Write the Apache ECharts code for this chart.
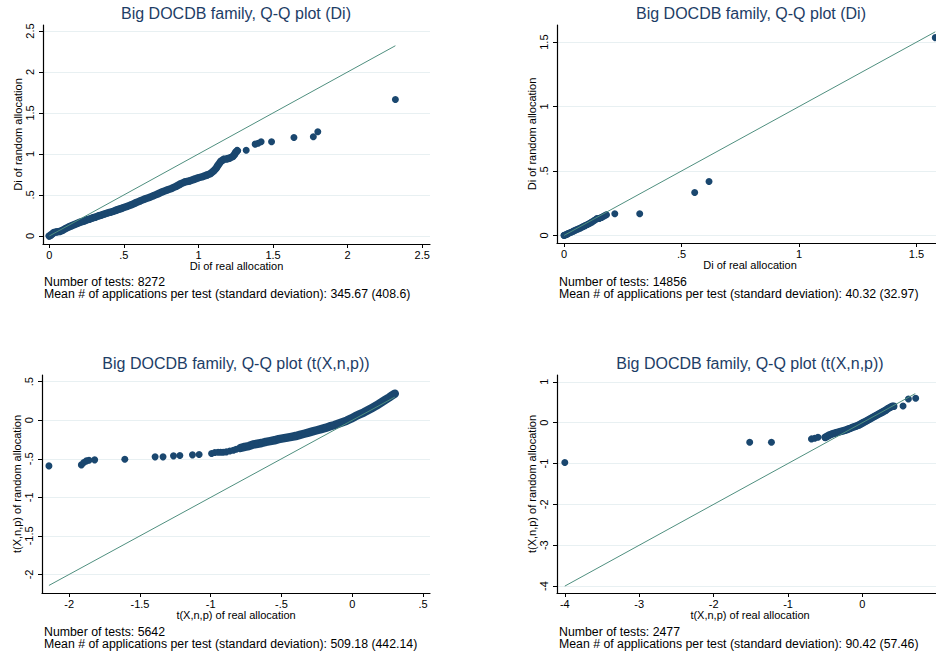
<!DOCTYPE html>
<html>
<head>
<meta charset="utf-8">
<script src="https://cdn.jsdelivr.net/npm/echarts@6/dist/echarts.min.js"></script>
<style>html,body{margin:0;padding:0;background:#fff;}#chart{width:936px;height:656px;}</style>
</head>
<body>
<div id="chart"></div>
<script>
// ---------- Data ----------
const titleText1 = 'Big DOCDB family, Q-Q plot (Di)';
const titleText2 = 'Big DOCDB family, Q-Q plot (t(X,n,p))';
const xNameDi = 'Di of real allocation';
const yNameDi = 'Di of random allocation';
const xNameT = 't(X,n,p) of real allocation';
const yNameT = 't(X,n,p) of random allocation';
const notes1 = ['Number of tests: 8272', 'Mean # of applications per test (standard deviation): 345.67 (408.6)'];
const notes2 = ['Number of tests: 14856', 'Mean # of applications per test (standard deviation): 40.32 (32.97)'];
const notes3 = ['Number of tests: 5642', 'Mean # of applications per test (standard deviation): 509.18 (442.14)'];
const notes4 = ['Number of tests: 2477', 'Mean # of applications per test (standard deviation): 90.42 (57.46)'];

// Panel 1 (Di, top-left): dense part of the quantile curve, then sparse upper quantiles
const p1DenseReal = [0,0.01,0.02,0.03,0.05,0.07,0.09,0.11,0.13,0.15,0.17,0.19,0.21,0.23,0.25,0.27,0.29,0.31,0.33,0.35,0.37,0.39,0.41,0.43,0.45,0.47,0.49,0.52,0.55,0.58,0.61,0.64,0.67,0.70,0.73,0.76,0.79,0.82,0.85,0.88,0.91,0.94,0.97,1.00,1.03,1.06,1.08,1.10,1.12,1.13,1.15,1.17,1.19,1.21,1.23,1.24,1.25,1.26];
const p1DenseRand = [0,0.01,0.025,0.04,0.05,0.055,0.07,0.09,0.11,0.125,0.14,0.155,0.17,0.18,0.195,0.205,0.22,0.23,0.245,0.255,0.268,0.28,0.29,0.302,0.315,0.328,0.34,0.36,0.38,0.405,0.428,0.45,0.47,0.492,0.515,0.54,0.56,0.58,0.605,0.635,0.66,0.67,0.69,0.71,0.725,0.745,0.76,0.79,0.83,0.86,0.91,0.935,0.94,0.95,0.97,0.99,1.02,1.04];
const p1SparseReal = [1.32,1.38,1.40,1.42,1.49,1.64,1.77,1.80,2.32];
const p1SparseRand = [1.045,1.12,1.13,1.15,1.15,1.20,1.21,1.27,1.665];
const p1Ref = [0, 2.32];

// Panel 2 (Di, top-right)
const p2DenseReal = [0,0.005,0.01,0.015,0.02,0.03,0.04,0.05,0.06,0.07,0.08,0.09,0.10,0.11,0.12,0.13,0.14,0.15,0.16,0.17,0.18];
const p2DenseRand = [0,0.003,0.007,0.012,0.016,0.024,0.033,0.042,0.05,0.058,0.067,0.076,0.085,0.095,0.105,0.118,0.13,0.132,0.14,0.15,0.16];
const p2SparseReal = [0.216,0.322,0.556,0.617,1.58];
const p2SparseRand = [0.168,0.168,0.333,0.419,1.535];
const p2Ref = [0, 1.58];

// Panel 3 (t(X,n,p), bottom-left)
const p3DenseReal = [-0.79,-0.76,-0.73,-0.70,-0.67,-0.64,-0.61,-0.58,-0.55,-0.52,-0.49,-0.46,-0.43,-0.40,-0.37,-0.34,-0.31,-0.28,-0.25,-0.22,-0.19,-0.16,-0.13,-0.10,-0.07,-0.04,-0.01,0.02,0.05,0.08,0.11,0.14,0.17,0.20,0.23,0.26,0.28,0.30];
const p3DenseRand = [-0.36,-0.345,-0.335,-0.315,-0.305,-0.295,-0.28,-0.27,-0.26,-0.245,-0.235,-0.225,-0.215,-0.205,-0.19,-0.175,-0.16,-0.145,-0.13,-0.115,-0.10,-0.08,-0.065,-0.045,-0.025,-0.005,0.02,0.05,0.075,0.10,0.13,0.16,0.19,0.225,0.26,0.295,0.32,0.345];
const p3SparseReal = [-2.143,-1.914,-1.897,-1.878,-1.86,-1.82,-1.607,-1.393,-1.337,-1.263,-1.218,-1.129,-1.082,-0.994,-0.971,-0.948,-0.93,-0.912,-0.89,-0.865,-0.84,-0.82];
const p3SparseRand = [-0.592,-0.579,-0.549,-0.527,-0.518,-0.514,-0.505,-0.475,-0.475,-0.462,-0.458,-0.449,-0.445,-0.432,-0.419,-0.415,-0.415,-0.415,-0.41,-0.398,-0.39,-0.376];
const p3Ref = [-2.143, 0.30];

// Panel 4 (t(X,n,p), bottom-right)
const p4DenseReal = [-0.50,-0.47,-0.44,-0.41,-0.38,-0.35,-0.32,-0.29,-0.26,-0.23,-0.20,-0.17,-0.14,-0.11,-0.08,-0.05,-0.02,0.01,0.04,0.07,0.10,0.13,0.16,0.19,0.22,0.25,0.28,0.31,0.34,0.37,0.40,0.42];
const p4DenseRand = [-0.36,-0.33,-0.30,-0.28,-0.26,-0.245,-0.23,-0.215,-0.20,-0.185,-0.165,-0.145,-0.12,-0.10,-0.08,-0.06,-0.03,0.0,0.03,0.06,0.09,0.12,0.15,0.18,0.21,0.24,0.27,0.30,0.34,0.37,0.40,0.40];
const p4SparseReal = [-4.0,-1.515,-1.223,-0.685,-0.641,-0.597,0.546,0.618,0.716];
const p4SparseRand = [-0.976,-0.478,-0.478,-0.398,-0.381,-0.357,0.407,0.578,0.595];
const p4Ref = [-4.0, 0.71];

// Tick labels
const ticksDi1 = [0, 0.5, 1, 1.5, 2, 2.5];
const ticksDi2 = [0, 0.5, 1, 1.5];
const ticksT3 = [-2, -1.5, -1, -0.5, 0, 0.5];
const ticksT4 = [-4, -3, -2, -1, 0, 1];

// ---------- Styling / layout ----------
const FONT = "'Liberation Sans', Arial, sans-serif";
const NAVY = '#1a476f';
const LINE = '#4f8f7f';
const TITLE = '#1d3d66';
const GRIDC = '#e8f0f2';

function fmt(v) { return String(v).replace(/^(-?)0\./, '$1.'); }
function zip(a, b) { return a.map((v, i) => [v, b[i]]); }

const grids = [
  { left: 43, top: 25, width: 387, height: 219 },
  { left: 557, top: 25, right: 0, height: 218 },
  { left: 42, top: 375, width: 388, height: 218 },
  { left: 557, top: 375, right: 0, height: 218 }
];
const xRanges = [[-0.042, 2.552], [-0.03, 1.583], [-2.192, 0.549], [-4.105, 0.989]];
const yRanges = [[-0.098, 2.573], [-0.059, 1.633], [-2.241, 0.587], [-4.169, 1.166]];
const xTicks = [ticksDi1, ticksDi2, ticksT3, ticksT4];
const yTicks = [ticksDi1, ticksDi2, ticksT3, ticksT4];
const xNames = [xNameDi, xNameDi, xNameT, xNameT];
const yNames = [yNameDi, yNameDi, yNameT, yNameT];
const dense = [zip(p1DenseReal, p1DenseRand), zip(p2DenseReal, p2DenseRand), zip(p3DenseReal, p3DenseRand), zip(p4DenseReal, p4DenseRand)];
const sparse = [zip(p1SparseReal, p1SparseRand), zip(p2SparseReal, p2SparseRand), zip(p3SparseReal, p3SparseRand), zip(p4SparseReal, p4SparseRand)];
const refs = [p1Ref, p2Ref, p3Ref, p4Ref];
const titles = [titleText1, titleText1, titleText2, titleText2];
const notes = [notes1, notes2, notes3, notes4];
const bandWidth = [7.5, 6.5, 8.5, 7.5];

function axisCommon(ticks) {
  return {
    axisLine: { show: true, onZero: false, lineStyle: { color: '#000', width: 1.2 } },
    axisTick: { show: true, inside: false, length: 4, customValues: ticks, lineStyle: { color: '#000', width: 1 } },
    axisLabel: { customValues: ticks, formatter: fmt, color: '#000', fontFamily: FONT, fontSize: 11 },
    nameTextStyle: { color: '#000', fontFamily: FONT, fontSize: 11 },
    nameLocation: 'middle'
  };
}

const xAxis = grids.map((g, i) => {
  const a = Object.assign(axisCommon(xTicks[i]), {
    type: 'value', gridIndex: i, min: xRanges[i][0], max: xRanges[i][1],
    name: xNames[i], nameGap: 16,
    splitLine: { show: false }
  });
  a.axisLabel.margin = 5;
  if (i === 1 || i === 3) a.nameTextStyle.padding = [0, 0, 0, 7];
  return a;
});

const yAxis = grids.map((g, i) => {
  const a = Object.assign(axisCommon(yTicks[i]), {
    type: 'value', gridIndex: i, min: yRanges[i][0], max: yRanges[i][1],
    name: yNames[i], nameGap: 20, nameRotate: 90,
    splitLine: { show: true, lineStyle: { color: GRIDC, width: 1 } }
  });
  a.axisLabel.rotate = 90;
  a.axisLabel.margin = 8;
  return a;
});

const series = [];
for (let i = 0; i < 4; i++) {
  // the many overlapping markers of the dense quantiles form a solid band
  series.push({
    type: 'line', xAxisIndex: i, yAxisIndex: i, data: dense[i],
    showSymbol: false, symbol: 'none',
    lineStyle: { color: NAVY, width: bandWidth[i], cap: 'round', join: 'round' },
    silent: true, animation: false, z: 2
  });
  series.push({
    type: 'scatter', xAxisIndex: i, yAxisIndex: i, data: dense[i].concat(sparse[i]),
    symbol: 'circle', symbolSize: 7, itemStyle: { color: NAVY, opacity: 1 },
    silent: true, animation: false, z: 2
  });
  series.push({
    type: 'line', xAxisIndex: i, yAxisIndex: i,
    data: [[refs[i][0], refs[i][0]], [refs[i][1], refs[i][1]]],
    showSymbol: false, symbol: 'none', lineStyle: { color: LINE, width: 1 },
    silent: true, animation: false, z: 3
  });
}

const graphic = [];
const titleCenters = [[236, 13], [751, 13], [236, 363], [750, 363]];
titleCenters.forEach((c, i) => {
  graphic.push({ type: 'text', x: c[0], y: c[1], silent: true,
    style: { text: titles[i], fill: TITLE, font: '16px ' + FONT, textAlign: 'center', textVerticalAlign: 'middle' } });
});
const noteOrigins = [[44, 281.5], [559, 281.5], [44, 631.5], [559, 631.5]];
noteOrigins.forEach((o, i) => {
  notes[i].forEach((t, k) => {
    graphic.push({ type: 'text', x: o[0], y: o[1] + k * 12.5, silent: true,
      style: { text: t, fill: '#000', font: '12.3px ' + FONT, textAlign: 'left', textVerticalAlign: 'middle' } });
  });
});

const chart = echarts.init(document.getElementById('chart'), null, { renderer: 'svg' });
chart.setOption({
  backgroundColor: '#fff',
  animation: false,
  grid: grids,
  xAxis: xAxis,
  yAxis: yAxis,
  series: series,
  graphic: graphic
});
</script>
</body>
</html>
